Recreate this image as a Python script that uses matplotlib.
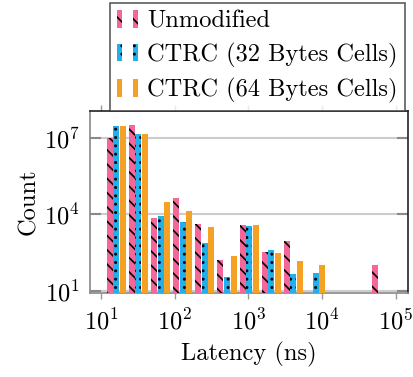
import warnings
import numpy as np
import matplotlib
matplotlib.use("Agg")
import matplotlib.pyplot as plt
import matplotlib.hatch as mhatch
from matplotlib.path import Path
from matplotlib.patches import Rectangle
from matplotlib.legend_handler import HandlerBase
from matplotlib.ticker import LogLocator, NullFormatter, NullLocator

warnings.filterwarnings("ignore")

plt.rcParams['font.family'] = ['cmr10', 'DejaVu Serif']
plt.rcParams['mathtext.fontset'] = 'cm'
plt.rcParams['axes.formatter.use_mathtext'] = True
plt.rcParams['hatch.linewidth'] = 1.2

# ---- data ----
latency = [16, 32, 64, 128, 256, 512, 1024, 2048, 4096, 8192, 16384, 32768, 65536]
unmodified = [1.0e7, 3.2e7, 6.9e3, 4.3e4, 4.2e3, 162, 3.8e3, 333, 900, 0, 0, 0, 100]
ctrc32 = [2.9e7, 1.4e7, 8.3e3, 4.9e3, 730, 35, 3.5e3, 400, 46, 50, 0, 0, 0]
ctrc64 = [2.9e7, 1.4e7, 3.0e4, 1.4e4, 3.2e3, 240, 3.7e3, 300, 148, 100, 0, 0, 0]
series_names = ["Unmodified", "CTRC (32 Bytes Cells)", "CTRC (64 Bytes Cells)"]
x_ticks = [1e1, 1e2, 1e3, 1e4, 1e5]
y_ticks = [1e1, 1e4, 1e7]


# dot-grid hatch (non-staggered columns) triggered by ':'
class ColumnDots(mhatch.HatchPatternBase):
    circ = Path.unit_circle()
    ncols = 16
    nrows = 12

    def __init__(self, hatch, density):
        self.on = hatch.count(':') > 0
        nv = len(self.circ.vertices)
        self.num_vertices = (self.ncols * self.nrows * nv) if self.on else 0

    def set_vertices_and_codes(self, vertices, codes):
        sv = self.circ.vertices * 0.0065
        sc = self.circ.codes
        vp, cp = [], []
        for r in range(self.nrows):
            for c in range(self.ncols):
                vp.append(sv + [(c + 0.5) / self.ncols, (r + 0.5) / self.nrows])
                cp.append(sc)
        np.concatenate(vp, out=vertices)
        np.concatenate(cp, out=codes)


# north-west lines with custom spacing, triggered by ';'
class NWLines(mhatch.SouthEastHatch):
    def __init__(self, hatch, density):
        self.num_lines = 14 if ';' in hatch else 0
        self.num_vertices = (self.num_lines + 1) * 2 if self.num_lines else 0


mhatch._hatch_types.append(ColumnDots)
mhatch._hatch_types.append(NWLines)

colors = ["#F5669A", "#22B0EC", "#F5A124"]
hatches = [";", ":", None]
FS = 17.6

fig = plt.figure(figsize=(4.14, 3.77), dpi=100)
ax = fig.add_axes([0.2162, 0.222, 0.7705, 0.4842])
ax.set_xscale('log')
ax.set_yscale('log')

pitch = 0.09   # decades between bars in a group
bw = 0.082     # bar width in decades
series = [unmodified, ctrc32, ctrc64]
handles = []
for i, (vals, c, h, name) in enumerate(zip(series, colors, hatches, series_names)):
    xs, ws, hs = [], [], []
    for xc, v in zip(latency, vals):
        if v <= 0:
            continue
        lc = np.log10(xc) + (i - 1) * pitch
        left = 10 ** (lc - bw / 2)
        right = 10 ** (lc + bw / 2)
        xs.append(left)
        ws.append(right - left)
        hs.append(v)
    bars = ax.bar(xs, hs, width=ws, align='edge', bottom=1, color=c,
                  edgecolor='black', linewidth=0, hatch=h,
                  zorder=3, label=name)
    handles.append(bars.patches[0])

ax.set_xlim(6.93, 1.5e5)
ax.set_ylim(8.0, 1.15e8)

ax.set_xticks(x_ticks)
ax.xaxis.set_minor_locator(LogLocator(base=10, subs=np.arange(2, 10)))
ax.xaxis.set_minor_formatter(NullFormatter())
ax.set_yticks(y_ticks)
ax.yaxis.set_minor_locator(NullLocator())

ax.tick_params(axis='x', which='both', direction='out', length=4, width=1,
               color='#999999', top=True, bottom=True, labelsize=FS, pad=7)
ax.tick_params(axis='y', which='major', direction='in', length=8, width=1.5,
               color='#8a8a8a', left=True, right=True, labelsize=FS, pad=7)
ax.grid(axis='y', which='major', color='#cccccc', linewidth=1.5, zorder=0)
ax.set_axisbelow(True)

for s in ['left', 'bottom']:
    ax.spines[s].set_color('#888888')
for s in ['top', 'right']:
    ax.spines[s].set_color('#222222')
for s in ax.spines.values():
    s.set_linewidth(1.2)

ax.set_xlabel("Latency (ns)", fontsize=FS, labelpad=5)
ax.set_ylabel("Count", fontsize=FS, labelpad=3)


class TwoBarHandler(HandlerBase):
    def create_artists(self, legend, orig_handle, xdescent, ydescent,
                       width, height, fontsize, trans):
        arts = []
        w = width * 0.22
        for x0 in (0.0, width * 0.78):
            r = Rectangle((x0 - xdescent, -ydescent - height * 0.05), w, height * 1.1,
                          facecolor=orig_handle.get_facecolor(),
                          edgecolor='black', linewidth=0,
                          hatch=orig_handle.get_hatch(), transform=trans)
            arts.append(r)
        return arts


leg = fig.legend(handles, series_names, loc='upper right',
                 bbox_to_anchor=(0.978, 0.992), fontsize=FS, frameon=True,
                 fancybox=False, handler_map={Rectangle: TwoBarHandler()},
                 handlelength=0.86, handleheight=0.62, handletextpad=0.37,
                 labelspacing=0.42, borderpad=0.3, borderaxespad=0)
leg.get_frame().set_edgecolor('#333333')
leg.get_frame().set_linewidth(1.2)
leg.set_zorder(10)

fig.savefig("out.png", dpi=100)
